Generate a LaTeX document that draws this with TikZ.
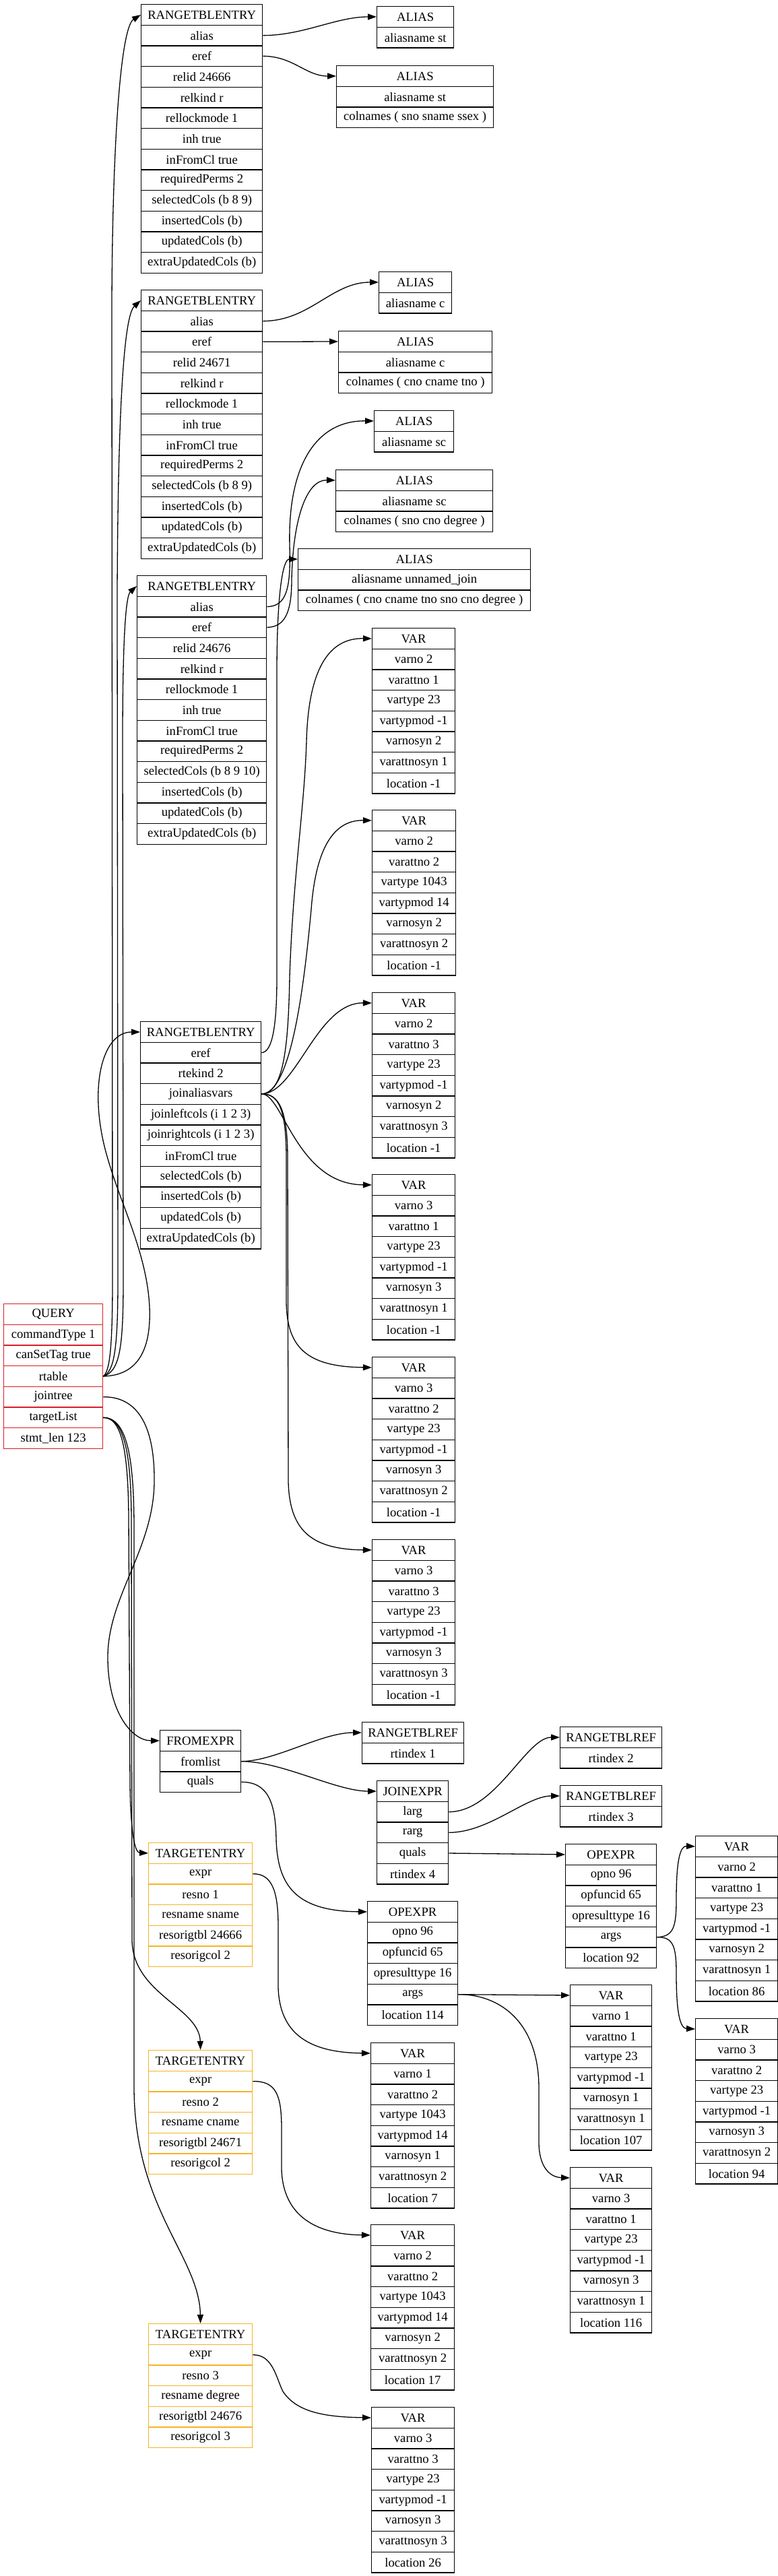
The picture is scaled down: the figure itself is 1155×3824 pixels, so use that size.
\documentclass[tikz,border=0pt]{standalone}
\usepackage{fontspec}
\setmainfont{Liberation Serif}
\usetikzlibrary{arrows.meta}
\definecolor{qred}{RGB}{215,30,40}
\definecolor{teorange}{RGB}{245,180,40}
\tikzset{
  cell/.style={draw, line width=1.3pt, inner sep=0pt, minimum height=30.67pt, anchor=north west, font=\fontsize{18.67}{20}\selectfont},
  edge/.style={line width=1.3pt, -{Triangle[length=13pt,width=9pt]}}
}
\newcommand{\rec}[6][black]{%
  \foreach \rowtxt [count=\i from 0] in {#6}{%
    \node[cell, draw=#1, minimum width=#5pt] (#2-\i) at (#3,{#4+\i*30.67}) {\rowtxt};}}
\begin{document}
\begin{tikzpicture}[x=1pt,y=-1pt]
\fill[white] (0,0) rectangle (1155,3824);
\useasboundingbox (0,0) rectangle (1155,3824);

% range table entries
\rec{rA}{209}{6}{180}{RANGETBLENTRY, alias, eref, relid 24666, relkind r, rellockmode 1, inh true, inFromCl true, requiredPerms 2, selectedCols (b 8 9), insertedCols (b), updatedCols (b), extraUpdatedCols (b)}
\rec{aA1}{559}{9}{114}{ALIAS, aliasname st}
\rec{aA2}{499}{97}{233}{ALIAS, aliasname st, colnames ( sno sname ssex )}

\rec{rB}{209}{430}{180}{RANGETBLENTRY, alias, eref, relid 24671, relkind r, rellockmode 1, inh true, inFromCl true, requiredPerms 2, selectedCols (b 8 9), insertedCols (b), updatedCols (b), extraUpdatedCols (b)}
\rec{aB1}{562}{403}{108}{ALIAS, aliasname c}
\rec{aB2}{502}{491}{228}{ALIAS, aliasname c, colnames ( cno cname tno )}

\rec{aC1}{555}{609}{118}{ALIAS, aliasname sc}
\rec{aC2}{498}{697}{233}{ALIAS, aliasname sc, colnames ( sno cno degree )}
\rec{aD}{442}{814}{345}{ALIAS, aliasname unnamed\_join, colnames ( cno cname tno sno cno degree )}

\rec{rC}{203}{854}{192}{RANGETBLENTRY, alias, eref, relid 24676, relkind r, rellockmode 1, inh true, inFromCl true, requiredPerms 2, selectedCols (b 8 9 10), insertedCols (b), updatedCols (b), extraUpdatedCols (b)}

\rec{v1}{552}{932}{123}{VAR, varno 2, varattno 1, vartype 23, vartypmod -1, varnosyn 2, varattnosyn 1, location -1}
\rec{v2}{552}{1202}{124}{VAR, varno 2, varattno 2, vartype 1043, vartypmod 14, varnosyn 2, varattnosyn 2, location -1}
\rec{v3}{552}{1473}{123}{VAR, varno 2, varattno 3, vartype 23, vartypmod -1, varnosyn 2, varattnosyn 3, location -1}
\rec{v4}{552}{1743}{123}{VAR, varno 3, varattno 1, vartype 23, vartypmod -1, varnosyn 3, varattnosyn 1, location -1}
\rec{v5}{552}{2014}{123}{VAR, varno 3, varattno 2, vartype 23, vartypmod -1, varnosyn 3, varattnosyn 2, location -1}
\rec{v6}{552}{2285}{123}{VAR, varno 3, varattno 3, vartype 23, vartypmod -1, varnosyn 3, varattnosyn 3, location -1}

\rec{rD}{208}{1516}{179}{RANGETBLENTRY, eref, rtekind 2, joinaliasvars, joinleftcols (i 1 2 3), joinrightcols (i 1 2 3), inFromCl true, selectedCols (b), insertedCols (b), updatedCols (b), extraUpdatedCols (b)}

% query
\rec[qred]{q}{5}{1935}{147}{QUERY, commandType 1, canSetTag true, rtable, jointree, targetList, stmt\_len 123}

% join tree
\rec{fe}{237}{2568}{120}{FROMEXPR, fromlist, quals}
\rec{rr1}{537}{2556}{151}{RANGETBLREF, rtindex 1}
\rec{je}{559}{2643}{106}{JOINEXPR, larg, rarg, quals, rtindex 4}
\rec{rr2}{831}{2563}{151}{RANGETBLREF, rtindex 2}
\rec{rr3}{831}{2650}{151}{RANGETBLREF, rtindex 3}
\rec{oj}{839}{2737}{135}{OPEXPR, opno 96, opfuncid 65, opresulttype 16, args, location 92}
\rec{vr1}{1032}{2725}{122}{VAR, varno 2, varattno 1, vartype 23, vartypmod -1, varnosyn 2, varattnosyn 1, location 86}
\rec{vr2}{1032}{2996}{122}{VAR, varno 3, varattno 2, vartype 23, vartypmod -1, varnosyn 3, varattnosyn 2, location 94}
\rec{oq}{545}{2822}{134}{OPEXPR, opno 96, opfuncid 65, opresulttype 16, args, location 114}
\rec{vq1}{846}{2946}{121}{VAR, varno 1, varattno 1, vartype 23, vartypmod -1, varnosyn 1, varattnosyn 1, location 107}
\rec{vq2}{846}{3217}{121}{VAR, varno 3, varattno 1, vartype 23, vartypmod -1, varnosyn 3, varattnosyn 1, location 116}

% target list
\rec[teorange]{t1}{220}{2735}{154}{TARGETENTRY, expr, resno 1, resname sname, resorigtbl 24666, resorigcol 2}
\rec[teorange]{t2}{220}{3043}{154}{TARGETENTRY, expr, resno 2, resname cname, resorigtbl 24671, resorigcol 2}
\rec[teorange]{t3}{220}{3449}{154}{TARGETENTRY, expr, resno 3, resname degree, resorigtbl 24676, resorigcol 3}
\rec{vt1}{550}{3032}{124}{VAR, varno 1, varattno 2, vartype 1043, vartypmod 14, varnosyn 1, varattnosyn 2, location 7}
\rec{vt2}{550}{3302}{124}{VAR, varno 2, varattno 2, vartype 1043, vartypmod 14, varnosyn 2, varattnosyn 2, location 17}
\rec{vt3}{551}{3573}{123}{VAR, varno 3, varattno 3, vartype 23, vartypmod -1, varnosyn 3, varattnosyn 3, location 26}

% ---- edges ----
% RTE -> ALIAS
\draw[edge] (rA-1.east) .. controls +(60,0) and +(-60,0) .. (aA1-0.west);
\draw[edge] (rA-2.east) .. controls +(45,0) and +(-45,0) .. (aA2-0.west);
\draw[edge] (rB-1.east) .. controls +(70,0) and +(-70,0) .. (aB1-0.west);
\draw[edge] (rB-2.east) -- (aB2-0.west);
\draw[edge] (rC-1.east) .. controls (425,900) and (432,875) .. (430,810) .. controls (427,690) and (470,624) .. (aC1-0.west);
\draw[edge] (rC-2.east) .. controls (425,931) and (433,905) .. (433,860) .. controls (435,770) and (455,712) .. (aC2-0.west);
\draw[edge] (rD-1.east) .. controls (405,1562) and (411,1520) .. (411,1450) -- (411,1000) .. controls (411,880) and (420,830) .. (aD-0.west);

% joinaliasvars -> VARs
\draw[edge] (rD-3.east) .. controls (420,1623) and (428,1560) .. (430,1450) .. controls (435,1300) and (452,1200) .. (455,1100) .. controls (458,990) and (490,947) .. (v1-0.west);
\draw[edge] (rD-3.east) .. controls (430,1623) and (450,1480) .. (462,1350) .. controls (468,1270) and (490,1217) .. (v2-0.west);
\draw[edge] (rD-3.east) .. controls (440,1623) and (470,1488) .. (v3-0.west);
\draw[edge] (rD-3.east) .. controls (420,1623) and (440,1758) .. (v4-0.west);
\draw[edge] (rD-3.east) .. controls (415,1623) and (425,1650) .. (425,1720) -- (425,1930) .. controls (425,2000) and (455,2029) .. (v5-0.west);
\draw[edge] (rD-3.east) .. controls (415,1623) and (427,1650) .. (427,1720) -- (428,2200) .. controls (430,2270) and (460,2300) .. (v6-0.west);

% rtable -> RTEs
\draw[edge] (q-3.east) .. controls (163,2036) and (167,2000) .. (167,1900) -- (166,450) .. controls (167,200) and (180,40) .. (rA-0.west);
\draw[edge] (q-3.east) .. controls (170,2036) and (175,2000) .. (175,1900) -- (174,880) .. controls (175,640) and (182,470) .. (rB-0.west);
\draw[edge] (q-3.east) .. controls (178,2036) and (183,2000) .. (183,1900) -- (182,1100) .. controls (182,960) and (186,885) .. (rC-0.west);
\draw[edge] (q-3.east) .. controls (200,2042) and (225,2010) .. (222,1940) .. controls (218,1860) and (180,1790) .. (160,1720) .. controls (130,1620) and (150,1532) .. (rD-0.west);

% jointree
\draw[edge] (q-4.east) .. controls (200,2073) and (230,2110) .. (229,2200) .. controls (228,2300) and (160,2370) .. (160,2460) .. controls (160,2540) and (195,2584) .. (fe-0.west);

% targetList
\draw[edge] (q-5.east) .. controls (180,2104) and (190,2150) .. (191,2250) -- (193,2650) .. controls (194,2720) and (200,2750) .. (t1-0.west);
\draw[edge] (q-5.east) .. controls (185,2104) and (195,2160) .. (195,2260) -- (196,2880) .. controls (197,2960) and (296,2980) .. (t2-0.north);
\draw[edge] (q-5.east) .. controls (190,2104) and (199,2170) .. (199,2270) -- (199,3100) .. controls (200,3280) and (296,3350) .. (t3-0.north);

% FROMEXPR
\draw[edge] (fe-1.east) .. controls +(50,0) and +(-60,0) .. (rr1-0.west);
\draw[edge] (fe-1.east) .. controls +(60,0) and +(-60,0) .. (je-0.west);
\draw[edge] (fe-2.east) .. controls (400,2645) and (409,2680) .. (410,2730) .. controls (412,2800) and (440,2837) .. (oq-0.west);

% JOINEXPR
\draw[edge] (je-1.east) .. controls +(70,0) and +(-50,0) .. (rr2-0.west);
\draw[edge] (je-2.east) .. controls +(60,0) and +(-50,0) .. (rr3-0.west);
\draw[edge] (je-3.east) -- (oj-0.west);

% OPEXPR args
\draw[edge] (oj-4.east) .. controls (1000,2875) and (1004,2860) .. (1004,2820) .. controls (1004,2760) and (1010,2740) .. (vr1-0.west);
\draw[edge] (oj-4.east) .. controls (1000,2875) and (1004,2890) .. (1004,2930) .. controls (1004,2990) and (1010,3011) .. (vr2-0.west);
\draw[edge] (oq-4.east) -- (vq1-0.west);
\draw[edge] (oq-4.east) .. controls (740,2960) and (800,3000) .. (800,3100) -- (800,3180) .. controls (800,3215) and (815,3232) .. (vq2-0.west);

% TARGETENTRY expr
\draw[edge] (t1-1.east) .. controls (405,2781) and (413,2810) .. (413,2860) -- (413,2950) .. controls (415,3020) and (460,3047) .. (vt1-0.west);
\draw[edge] (t2-1.east) .. controls (410,3089) and (418,3110) .. (418,3160) -- (418,3220) .. controls (420,3290) and (470,3317) .. (vt2-0.west);
\draw[edge] (t3-1.east) .. controls (405,3495) and (410,3530) .. (420,3550) .. controls (440,3580) and (480,3588) .. (vt3-0.west);
\end{tikzpicture}
\end{document}
